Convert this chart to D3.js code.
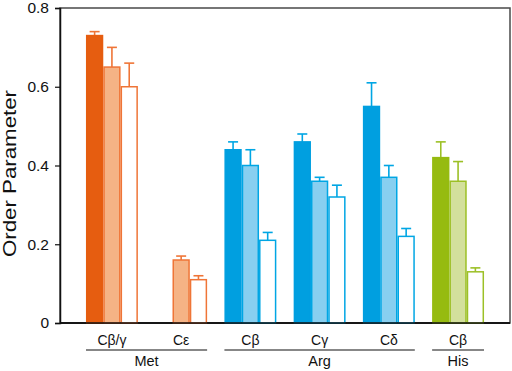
<!DOCTYPE html>
<html>
<head>
<meta charset="utf-8">
<script src="https://cdn.jsdelivr.net/npm/d3@7"></script>
<style>
  body { margin: 0; background: #fff; overflow: hidden; }
  text { font-family: "Liberation Sans", Arial, sans-serif; }
</style>
</head>
<body>
<script>
// categories (carbon positions) and the residue each belongs to
const categoryLabels = ["Cβ/γ", "Cε", "Cβ", "Cγ", "Cδ", "Cβ"];
const categoryResidues = ["Met", "Met", "Arg", "Arg", "Arg", "His"];
const residues = ["Met", "Arg", "His"];
const seriesNames = ["s1", "s2", "s3"];

// bar heights (null = no bar)
const series1 = [0.73, null, 0.44, 0.46, 0.55, 0.42];
const series2 = [0.65, 0.16, 0.40, 0.36, 0.37, 0.36];
const series3 = [0.60, 0.11, 0.21, 0.32, 0.22, 0.13];
// upper error
const error1 = [0.01, null, 0.02, 0.02, 0.06, 0.04];
const error2 = [0.05, 0.01, 0.04, 0.01, 0.03, 0.05];
const error3 = [0.06, 0.01, 0.02, 0.03, 0.02, 0.01];

const yTicks = [0, 0.2, 0.4, 0.6, 0.8];

const palette = {
    Met: {dark: "#e65d10", light: "#f5b385", line: "#ef7537"},
    Arg: {dark: "#009fe0", light: "#88cff0", line: "#00a6e4"},
    His: {dark: "#96bb10", light: "#d3e09c", line: "#9cc026"}
};

const width = 512, height = 371;
const margin = {top: 8, right: 2, bottom: 48, left: 60};
const plotW = width - margin.left - margin.right;
const plotH = height - margin.top - margin.bottom;

const svg = d3.select("body").append("svg")
    .attr("width", width)
    .attr("height", height);

const g = svg.append("g")
    .attr("transform", "translate(" + margin.left + "," + margin.top + ")");

const xScale = d3.scaleBand()
    .domain(d3.range(categoryLabels.length))
    .range([0, plotW])
    .paddingInner(0.25)
    .paddingOuter(0.375);

const xSub = d3.scaleBand()
    .domain(seriesNames)
    .range([0, xScale.bandwidth()]);

const yScale = d3.scaleLinear()
    .domain([0, 0.8])
    .range([plotH, 0]);

// frame
g.append("rect")
    .attr("x", 0).attr("y", 0)
    .attr("width", plotW).attr("height", plotH)
    .attr("fill", "none")
    .attr("stroke", "#4a4a4a")
    .attr("stroke-width", 1.5);

// y axis
const yAxis = d3.axisLeft(yScale)
    .tickValues(yTicks)
    .tickSize(5)
    .tickPadding(6)
    .tickFormat((d) => d === 0 ? "0" : d3.format(".1f")(d));

g.append("g")
    .attr("class", "yaxis")
    .call(yAxis)
    .call((sel) => sel.select(".domain").attr("stroke", "#111").attr("stroke-width", 1.5))
    .call((sel) => sel.selectAll(".tick line").attr("stroke", "#111").attr("stroke-width", 1.2))
    .call((sel) => sel.selectAll(".tick text")
        .attr("fill", "#111")
        .style("font-size", "15.5px")
        .style("font-family", '"Liberation Sans", Arial, sans-serif'));

g.append("line")
    .attr("x1", 0).attr("x2", plotW)
    .attr("y1", plotH).attr("y2", plotH)
    .attr("stroke", "#111")
    .attr("stroke-width", 1.5);

svg.append("text")
    .attr("transform", "translate(15.5,173.5) rotate(-90)")
    .attr("text-anchor", "middle")
    .attr("fill", "#111")
    .attr("textLength", 167)
    .attr("lengthAdjust", "spacingAndGlyphs")
    .style("font-size", "18.5px")
    .text("Order Parameter");

// bars
const rows = [];
categoryLabels.forEach((label, i) => {
    const col = palette[categoryResidues[i]];
    const vals = [series1[i], series2[i], series3[i]];
    const errs = [error1[i], error2[i], error3[i]];
    const fills = [col.dark, col.light, "#fff"];
    const strokes = [col.dark, col.line, col.line];
    vals.forEach((v, k) => {
        if (v === null) return;
        rows.push({cat: i, series: seriesNames[k], value: v, err: errs[k],
            fill: fills[k], stroke: strokes[k], line: col.line});
    });
});

const bar = g.selectAll("g.bar").data(rows).enter().append("g")
    .attr("class", "bar");

// error bars first so the bar covers the lower end
bar.append("line")
    .attr("x1", (d) => xScale(d.cat) + xSub(d.series) + xSub.bandwidth() / 2)
    .attr("x2", (d) => xScale(d.cat) + xSub(d.series) + xSub.bandwidth() / 2)
    .attr("y1", (d) => yScale(d.value))
    .attr("y2", (d) => yScale(d.value + d.err))
    .attr("stroke", (d) => d.line)
    .attr("stroke-width", 1.6);

bar.append("line")
    .attr("x1", (d) => xScale(d.cat) + xSub(d.series) + xSub.bandwidth() / 2 - 5)
    .attr("x2", (d) => xScale(d.cat) + xSub(d.series) + xSub.bandwidth() / 2 + 5)
    .attr("y1", (d) => yScale(d.value + d.err))
    .attr("y2", (d) => yScale(d.value + d.err))
    .attr("stroke", (d) => d.line)
    .attr("stroke-width", 1.6);

bar.append("rect")
    .attr("x", (d) => xScale(d.cat) + xSub(d.series) + 0.75)
    .attr("y", (d) => yScale(d.value))
    .attr("width", xSub.bandwidth() - 1.5)
    .attr("height", (d) => yScale(0) - yScale(d.value))
    .attr("fill", (d) => d.fill)
    .attr("stroke", (d) => d.stroke)
    .attr("stroke-width", 1.5);

// redraw bottom axis on top of bars
g.append("line")
    .attr("x1", 0).attr("x2", plotW)
    .attr("y1", plotH).attr("y2", plotH)
    .attr("stroke", "#111")
    .attr("stroke-width", 1.5);

// category labels
g.selectAll("text.cat").data(categoryLabels).enter().append("text")
    .attr("class", "cat")
    .attr("x", (d, i) => xScale(i) + xScale.bandwidth() / 2)
    .attr("y", plotH + 22)
    .attr("text-anchor", "middle")
    .attr("fill", "#111")
    .style("font-size", "14px")
    .text((d) => d);

// residue group lines + labels
residues.forEach((r) => {
    const idx = d3.range(categoryLabels.length).filter((i) => categoryResidues[i] === r);
    const x0 = xScale(d3.min(idx));
    const x1 = xScale(d3.max(idx)) + xScale.bandwidth();
    g.append("line")
        .attr("x1", x0).attr("x2", x1)
        .attr("y1", plotH + 27).attr("y2", plotH + 27)
        .attr("stroke", "#111")
        .attr("stroke-width", 1.2);
    g.append("text")
        .attr("x", (x0 + x1) / 2)
        .attr("y", plotH + 43)
        .attr("text-anchor", "middle")
        .attr("fill", "#111")
        .style("font-size", "14.5px")
        .text(r);
});
</script>
</body>
</html>
